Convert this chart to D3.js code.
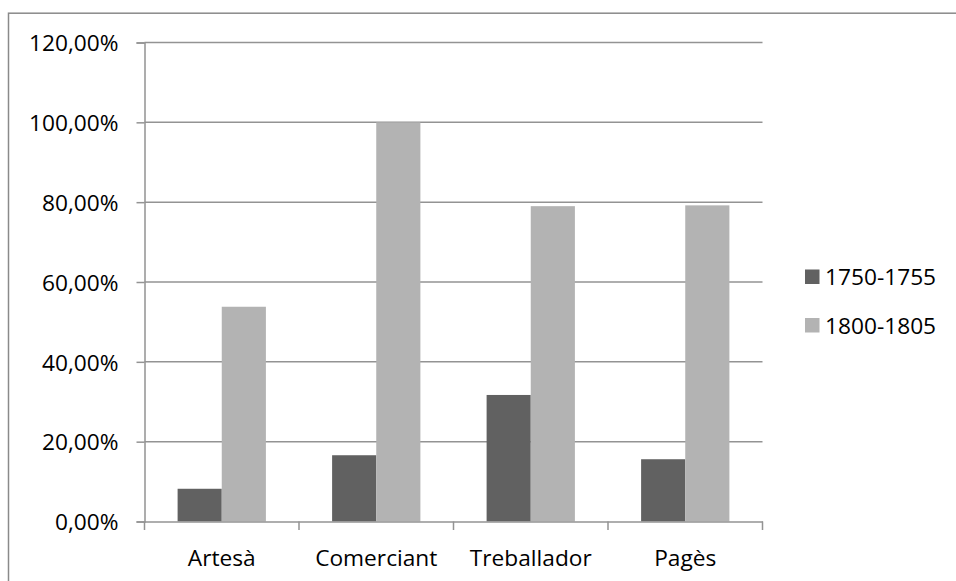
<!DOCTYPE html>
<html>
<head>
<meta charset="utf-8">
<script src="https://cdn.jsdelivr.net/npm/d3@7"></script>
<style>
  html, body { margin: 0; padding: 0; background: #ffffff; }
  svg { display: block; }
  text { font-family: "Open Sans", sans-serif; fill: #000; }
</style>
</head>
<body>
<svg id="chart" width="956" height="581"></svg>
<script>
// ---- data ----
const categories = ["Artesà", "Comerciant", "Treballador", "Pagès"];
const seriesNames = ["1750-1755", "1800-1805"];
const values1750 = [0.082, 0.166, 0.317, 0.156];
const values1800 = [0.538, 1.000, 0.790, 0.792];
const yTicks = [0, 0.2, 0.4, 0.6, 0.8, 1.0, 1.2];
const seriesColors = ["#616161", "#b3b3b3"];

// ---- layout ----
const svg = d3.select("#chart");
const fontSize = 22.7;
const plot = { left: 144.5, right: 762.5, top: 42.5, bottom: 521.5 };
const gridColor = "#939393";

// outer border (only top and left visible)
svg.append("rect")
  .attr("x", 8.5).attr("y", 13.2)
  .attr("width", 2000).attr("height", 2000)
  .attr("fill", "none")
  .attr("stroke", "#8a8a8a")
  .attr("stroke-width", 1.5);

const x0 = d3.scaleBand().domain(categories).range([plot.left, plot.right]).paddingInner(0).paddingOuter(0);
const bw = x0.bandwidth();
const gap = bw * 1.5 / 3.5;
const x1 = d3.scaleBand().domain(seriesNames).range([gap / 2, bw - gap / 2]).padding(0);
const y = d3.scaleLinear().domain([0, 1.2]).range([plot.bottom, plot.top]);

const locale = d3.formatLocale({ decimal: ",", thousands: ".", grouping: [3], currency: ["", " €"], percent: "%" });
const fmt = locale.format(".2%");

// gridlines
svg.append("g")
  .selectAll("line")
  .data(yTicks.filter(d => d > 0))
  .join("line")
  .attr("x1", plot.left).attr("x2", plot.right)
  .attr("y1", d => y(d)).attr("y2", d => y(d))
  .attr("stroke", gridColor).attr("stroke-width", 1.5);

// bars
const rows = categories.map((c, i) => ({ cat: c, vals: [values1750[i], values1800[i]] }));
const groups = svg.append("g").selectAll("g")
  .data(rows)
  .join("g")
  .attr("transform", d => `translate(${x0(d.cat)},0)`);
groups.selectAll("rect")
  .data(d => d.vals.map((v, k) => ({ key: seriesNames[k], v, k })))
  .join("rect")
  .attr("x", d => x1(d.key))
  .attr("width", x1.bandwidth())
  .attr("y", d => y(d.v))
  .attr("height", d => y(0) - y(d.v))
  .attr("fill", d => seriesColors[d.k]);

// y axis
const yAxis = d3.axisLeft(y).tickValues(yTicks).tickFormat(fmt).tickSize(8).tickPadding(18);
const gy = svg.append("g").attr("transform", `translate(${plot.left},0)`).call(yAxis);
gy.select(".domain").attr("stroke", gridColor).attr("stroke-width", 1.5);
gy.selectAll(".tick line").attr("stroke", gridColor).attr("stroke-width", 1.5);
gy.selectAll(".tick text")
  .attr("font-size", fontSize)
  .attr("font-family", "'Open Sans', sans-serif")
  .attr("fill", "#000")
  .attr("dy", "0.36em");

// x axis
const xAxis = d3.axisBottom(x0).tickSize(0).tickPadding(0);
const gx = svg.append("g").attr("transform", `translate(0,${plot.bottom})`).call(xAxis);
gx.select(".domain").attr("stroke", gridColor).attr("stroke-width", 1.5);
gx.selectAll(".tick line").remove();
gx.selectAll(".tick text")
  .attr("font-size", fontSize)
  .attr("font-family", "'Open Sans', sans-serif")
  .attr("fill", "#000")
  .attr("y", 44.5)
  .attr("dy", 0);
// category boundary ticks
const boundaries = categories.map(c => x0(c)).concat([plot.right]);
gx.append("g").selectAll("line")
  .data(boundaries)
  .join("line")
  .attr("x1", d => d).attr("x2", d => d)
  .attr("y1", 0).attr("y2", 8.5)
  .attr("stroke", gridColor).attr("stroke-width", 1.5);

// legend
const legend = svg.append("g");
const legendRows = legend.selectAll("g")
  .data(seriesNames)
  .join("g")
  .attr("transform", (d, i) => `translate(805,${277 + i * 48.5})`);
legendRows.append("rect")
  .attr("x", 0).attr("y", -7.5)
  .attr("width", 14.5).attr("height", 14.5)
  .attr("fill", (d, i) => seriesColors[i]);
legendRows.append("text")
  .attr("x", 20)
  .attr("y", 0)
  .attr("dy", "0.36em")
  .attr("font-size", fontSize)
  .text(d => d);
</script>
</body>
</html>
